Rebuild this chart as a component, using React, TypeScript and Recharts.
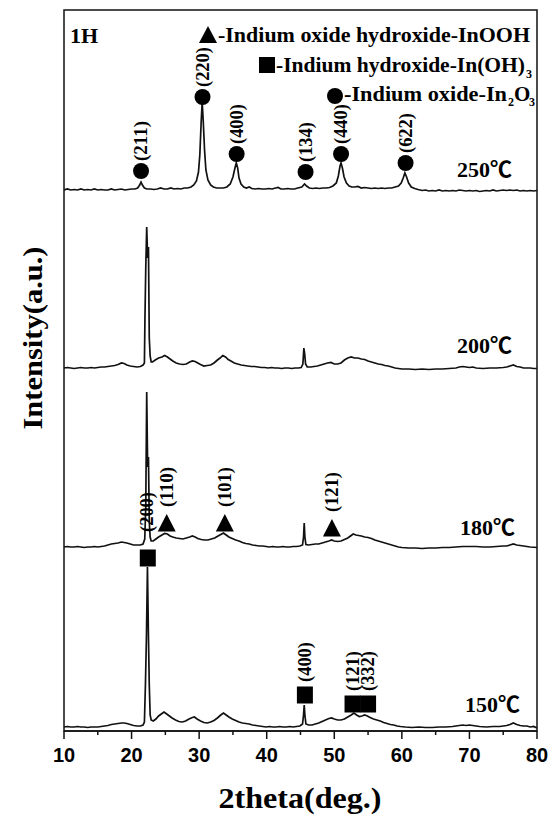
import React from "react";
import { ComposedChart, Line, Scatter, XAxis, YAxis, ReferenceArea } from "recharts";

// 2theta (deg.) vs intensity above each pattern's own baseline (a.u.)
const XRD_250: [number, number][] = [
  [10, 0], [10.5, 1], [11, 0], [11.5, 0.5], [12, 0], [12.5, 1], [13, 0], [13.5, 0.5], [14, 0], [14.5, 1],
  [15, 0], [15.5, 0.5], [16, 0], [16.5, 0], [17, 1], [17.5, 0], [18, 0.5], [18.5, 1], [19, 0], [19.5, 0.5],
  [20, 1], [20.5, 1], [20.9, 2], [21.2, 5], [21.4, 8], [21.6, 5], [21.9, 2], [22.3, 1], [22.8, 1], [23.3, 0.5],
  [23.8, 1], [24.3, 2], [24.8, 1], [25.3, 1], [25.8, 2], [26.3, 1], [26.8, 1.5], [27.3, 1], [27.8, 2], [28.3, 2],
  [28.8, 3], [29.2, 5], [29.6, 9], [29.9, 18], [30.1, 35], [30.3, 68], [30.45, 88], [30.6, 70], [30.8, 40],
  [31.0, 20], [31.3, 10], [31.7, 5], [32.1, 3], [32.6, 2], [33.1, 2], [33.6, 2], [34.1, 3], [34.6, 6], [35.0, 13],
  [35.3, 22], [35.5, 27], [35.7, 22], [35.9, 12], [36.2, 6], [36.6, 3], [37.0, 2], [37.4, 3], [37.8, 1.5],
  [38.3, 1], [38.8, 1.5], [39.3, 1], [39.8, 1], [40.3, 1.5], [40.8, 1], [41.3, 2], [41.7, 2.5], [42.1, 1],
  [42.6, 1], [43.1, 1.5], [43.6, 1], [44.1, 1], [44.6, 2], [45.2, 3], [45.6, 6], [45.9, 4], [46.3, 2], [46.8, 1.5],
  [47.3, 2], [47.8, 1.5], [48.3, 2], [48.8, 2], [49.3, 2.5], [49.8, 4], [50.3, 7], [50.6, 14], [50.85, 24],
  [51.0, 27], [51.2, 22], [51.45, 13], [51.8, 7], [52.2, 4], [52.6, 3], [53.0, 3], [53.5, 3.5], [54.0, 2],
  [54.5, 2.5], [55.0, 2], [55.5, 1.5], [56.0, 2], [56.5, 1.5], [57.0, 2], [57.5, 1.5], [58.0, 2], [58.5, 2],
  [59.0, 3], [59.5, 4], [59.9, 7], [60.2, 12], [60.45, 17], [60.7, 13], [61.0, 7], [61.4, 3], [61.9, 1.5],
  [62.4, 0.5], [63, -0.5], [63.5, 0], [64, -1], [64.5, -0.5], [65, -1], [65.5, 0], [66, -1], [66.5, -0.5],
  [67, -1], [67.5, -0.5], [68, -1], [68.5, 0], [69, -0.5], [69.5, -1], [70, -0.5], [70.5, -1], [71, -0.5],
  [71.5, -1.5], [72, -1], [72.5, -0.5], [73, -1], [73.5, 0], [74, -1], [74.5, -0.5], [75, 0], [75.5, -0.5],
  [76, 0], [76.5, -0.5], [77, 0], [77.5, -1], [78, -0.5], [78.5, -1], [79, -0.5], [79.5, -1], [80, -0.5],
];

const XRD_200: [number, number][] = [
  [10, 0], [10.5, 0.5], [11, 0], [11.5, -0.5], [12, 0], [12.5, 0.5], [13, 0], [13.5, 0], [14, 0.5], [14.5, 0],
  [15, 0.5], [15.5, 1], [16, 1], [16.5, 1.5], [17, 2], [17.5, 2.5], [18, 3.5], [18.5, 5], [18.9, 4.5], [19.3, 3],
  [19.8, 2], [20.3, 1.5], [20.8, 1], [21.3, 1.5], [21.7, 3], [21.9, 5], [21.98, 50], [22.1, 100], [22.24, 141],
  [22.38, 110], [22.5, 121], [22.62, 30], [22.75, 12], [22.9, 6], [23.1, 6], [23.5, 8], [24.0, 10], [24.5, 11],
  [24.9, 12.5], [25.3, 11], [25.7, 9], [26.1, 7], [26.6, 5], [27.1, 4], [27.6, 3.5], [28.1, 4], [28.6, 6],
  [29.0, 7], [29.4, 6.5], [29.8, 5], [30.2, 3.5], [30.7, 2], [31.2, 2.5], [31.7, 3], [32.2, 5], [32.7, 8],
  [33.1, 10], [33.5, 12.5], [33.9, 11], [34.3, 8.5], [34.7, 7], [35.2, 5], [35.7, 4], [36.2, 3], [36.7, 2.5],
  [37.2, 2], [37.7, 1.5], [38.2, 1.5], [38.7, 1], [39.2, 0.5], [39.7, 0.5], [40.2, 0], [40.7, 0.5], [41.2, 0],
  [41.7, 0], [42.2, -0.5], [42.7, 0], [43.2, 0], [43.7, -0.5], [44.2, 0], [44.7, 0], [45.1, 0.5], [45.35, 4],
  [45.5, 20], [45.62, 14], [45.75, 4], [46.0, 1], [46.5, 1], [47, 1.5], [47.5, 2], [48, 3], [48.5, 4], [49, 5],
  [49.5, 5.5], [50, 4], [50.5, 4], [51, 5], [51.5, 8], [52, 10], [52.5, 11], [53, 10], [53.5, 10], [54, 9],
  [54.5, 8.5], [55, 7], [55.5, 6], [56, 5], [56.5, 4], [57, 3.5], [57.5, 2.5], [58, 2], [58.5, 1], [59, 0],
  [59.5, -0.5], [60, -1], [61, -1], [62, -1.5], [63, -1], [64, -1.5], [65, -1], [66, -1], [67, -0.5], [68, 0],
  [68.5, 1], [69, 1.5], [69.5, 1], [70, 0.5], [70.5, 1], [71, 0], [72, -0.5], [73, 0], [74, 0], [75, 0.5],
  [75.5, 1], [76, 2], [76.5, 3], [77, 1.5], [77.5, 1], [78, 0], [79, 0], [79.5, -0.5], [80, -0.5],
];

const XRD_180: [number, number][] = [
  [10, 0], [10.5, 0.5], [11, 0], [11.5, 0], [12, 0.5], [12.5, 0], [13, -0.5], [13.5, 0], [14, 0], [14.5, 0.5],
  [15, 0], [15.5, 0.5], [16, 1], [16.5, 2], [17, 3], [17.5, 3.5], [18, 4], [18.5, 5], [18.9, 4.5], [19.3, 4],
  [19.8, 3], [20.3, 2], [20.8, 2], [21.3, 2], [21.7, 3], [21.95, 8], [22.1, 40], [22.24, 155], [22.38, 80],
  [22.5, 90], [22.62, 25], [22.75, 10], [22.9, 6], [23.2, 6], [23.6, 8], [24.0, 10], [24.5, 12], [24.9, 13.5],
  [25.3, 13], [25.7, 11], [26.1, 10], [26.6, 9], [27.1, 8.5], [27.6, 8], [28.1, 9], [28.6, 10], [29.0, 11],
  [29.4, 10], [29.8, 8.5], [30.3, 7.5], [30.8, 7], [31.3, 7], [31.8, 8], [32.3, 9], [32.8, 11], [33.2, 12.5],
  [33.6, 14], [34.0, 12], [34.4, 10], [34.9, 8.5], [35.4, 7], [35.9, 6], [36.4, 4.5], [36.9, 3.5], [37.4, 3],
  [37.9, 2], [38.4, 1.5], [38.9, 1], [39.4, 1], [39.9, 0.5], [40.4, 0], [40.9, 0.5], [41.4, 0], [41.9, 0],
  [42.4, 0.5], [42.9, 0], [43.4, 0], [43.9, 0.5], [44.4, 0.5], [44.9, 1], [45.3, 2], [45.45, 10], [45.55, 24],
  [45.65, 10], [45.8, 2.5], [46.2, 2], [46.7, 2.5], [47.2, 3], [47.7, 3], [48.2, 4], [48.7, 5], [49.2, 6],
  [49.6, 7], [50.0, 6], [50.5, 5.5], [51.0, 6], [51.5, 7.5], [52.0, 9], [52.4, 11], [52.8, 13], [53.2, 12],
  [53.6, 11.5], [54.0, 11], [54.5, 10], [55.0, 9.5], [55.5, 8.5], [56.0, 7], [56.5, 6], [57.0, 5], [57.5, 4],
  [58.0, 3], [58.5, 2], [59.0, 1], [59.5, 0], [60, -0.5], [61, -1], [62, -1], [63, -1.5], [64, -1], [65, -1],
  [66, -0.5], [67, -0.5], [68, 0], [69, 0.5], [70, 0.5], [71, 0.5], [72, 0], [73, 0], [74, 0.5], [75, 1],
  [75.5, 1], [76, 2], [76.5, 3], [77, 2], [77.5, 1.5], [78, 1], [79, 0], [80, -0.5],
];

const XRD_150: [number, number][] = [
  [10, 0], [10.5, 0.5], [11, 0], [11.5, 0], [12, 0.5], [12.5, 0], [13, 0], [13.5, -0.5], [14, 0], [14.5, 0],
  [15, 0], [15.5, 0.5], [16, 1], [16.5, 1.5], [17, 2.5], [17.5, 3], [18, 3.5], [18.5, 4], [18.9, 4], [19.3, 3.5],
  [19.8, 2.5], [20.3, 1.5], [20.8, 1], [21.3, 1], [21.7, 2], [21.9, 5], [22.05, 42], [22.2, 90], [22.35, 160],
  [22.5, 90], [22.62, 42], [22.75, 12], [22.9, 7], [23.2, 6], [23.6, 8], [24.0, 11], [24.4, 13], [24.8, 15],
  [25.2, 13], [25.6, 11], [26.0, 9], [26.5, 7], [27.0, 5.5], [27.5, 5], [28.0, 6], [28.5, 8], [29.0, 9.5],
  [29.3, 10], [29.7, 8], [30.2, 6], [30.7, 4.5], [31.2, 4], [31.7, 5], [32.2, 6.5], [32.7, 9], [33.2, 12],
  [33.6, 14], [34.0, 12], [34.4, 10], [34.9, 8], [35.4, 6.5], [35.9, 5], [36.4, 4], [36.9, 3.5], [37.4, 3],
  [37.9, 2], [38.4, 1.5], [38.9, 1], [39.4, 0.5], [39.9, 0], [40.4, 0.5], [40.9, 0], [41.4, 0], [41.9, 0.5],
  [42.4, 0], [42.9, 0], [43.4, 0.5], [43.9, 0], [44.4, 0.5], [44.9, 1], [45.3, 3], [45.45, 12], [45.55, 22],
  [45.65, 12], [45.8, 3], [46.2, 2], [46.7, 2], [47.2, 3], [47.7, 4], [48.2, 5.5], [48.7, 7], [49.2, 8.5],
  [49.6, 9], [50.0, 8], [50.5, 7], [51.0, 7], [51.5, 8], [52.0, 10], [52.5, 12], [52.9, 14], [53.3, 12],
  [53.7, 10.5], [54.1, 11], [54.5, 12], [54.9, 11], [55.3, 9.5], [55.8, 8], [56.3, 7], [56.8, 6], [57.3, 4.5],
  [57.8, 3.5], [58.3, 2.5], [58.8, 2], [59.3, 1], [59.8, 0.5], [60.5, 0], [61.5, -0.5], [62.5, 0], [63.5, -0.5],
  [64.5, -0.5], [65.5, 0], [66.5, 0], [67.5, 0.5], [68.5, 1.5], [69.0, 2], [69.5, 1.5], [70.0, 2], [70.5, 1.5],
  [71.0, 1], [71.5, 0.5], [72.5, 0], [73.5, 0.5], [74.5, 0.5], [75.5, 1.5], [76.0, 2.5], [76.5, 4], [77.0, 2.5],
  [77.5, 1.5], [78.0, 1], [78.5, 1], [79.0, 0], [79.5, 0.5], [80, -1],
];

// stacking offsets (a.u.) for each temperature
const OFFSET_250 = 541;
const OFFSET_200 = 363;
const OFFSET_180 = 184;
const OFFSET_150 = 4;

// indexed reflections: [2theta, marker height above baseline, hkl]
const IN2O3_250: [number, number, string][] = [
  [21.4, 19, "(211)"], [30.5, 93, "(220)"], [35.55, 36, "(400)"],
  [45.75, 18, "(134)"], [51.0, 36, "(440)"], [60.55, 27, "(622)"],
];
const INOOH_180: [number, number, string][] = [
  [25.2, 24, "(110)"], [33.8, 24, "(101)"], [49.65, 19, "(121)"],
];
const INOH3_180: [number, number, string][] = [[22.4, -11, ""]];
const LABEL_180: [number, number, string][] = [[22.3, 15, "(200)"]];
const INOH3_150: [number, number, string][] = [
  [45.65, 32, "(400)"], [52.7, 23, "(121)"], [55.0, 23, "(332)"],
];

const X_TICKS = [10, 15, 20, 25, 30, 35, 40, 45, 50, 55, 60, 65, 70, 75, 80];

const shift = (pts: [number, number][], off: number) => pts.map(([x, y]) => ({ x, y: y + off }));
const peaks = (pts: [number, number, string][], off: number, phase: string) =>
  pts.map(([x, y, hkl]) => ({ x, y: y + off, hkl, phase }));

const SERIF = "'Liberation Serif', 'Times New Roman', 'Noto Sans CJK SC', serif";
const SANS = "'Liberation Sans', Arial, sans-serif";
const INK = "#111";

function PeakMark(props: any) {
  const { cx, cy, payload } = props;
  if (cx == null || cy == null) return null;
  let mark: React.ReactNode = null;
  let gap = 0;
  if (payload.phase === "In2O3") {
    mark = <circle cx={cx} cy={cy} r={8} fill="#000" />;
    gap = 10;
  } else if (payload.phase === "InOOH") {
    mark = <polygon points={`${cx},${cy - 9} ${cx + 9},${cy + 8.5} ${cx - 9},${cy + 8.5}`} fill="#000" />;
    gap = 16;
  } else if (payload.phase === "InOH3") {
    mark = <rect x={cx - 8} y={cy - 8.5} width={16} height={17} fill="#000" />;
    gap = 13;
  }
  const ly = cy - gap;
  return (
    <g>
      {mark}
      {payload.hkl && (
        <text
          x={cx}
          y={ly}
          dy="0.35em"
          transform={`rotate(-90 ${cx} ${ly})`}
          fontFamily={SERIF}
          fontWeight="bold"
          fontSize={18}
          textLength={40}
          lengthAdjust="spacingAndGlyphs"
          fill="#000"
        >
          {payload.hkl}
        </text>
      )}
    </g>
  );
}

function XTick(props: any) {
  const { x, y, payload } = props;
  const major = payload.value % 10 === 0;
  return (
    <g>
      <line x1={x} x2={x} y1={y} y2={y + (major ? 8 : 4)} stroke={INK} strokeWidth={1.5} />
      {major && (
        <text x={x} y={y + 31} textAnchor="middle" fontFamily={SANS} fontWeight="bold" fontSize={20} fill="#000">
          {payload.value}
        </text>
      )}
    </g>
  );
}

const traceStyle = { stroke: INK, strokeWidth: 1.7, dot: false, isAnimationActive: false, type: "linear" as const };
const markShape = (p: any) => <PeakMark {...p} />;

export default function App() {
  return (
    <div style={{ position: "absolute", left: 0, top: 0, width: 557, height: 816, background: "#fff" }}>
      <ComposedChart width={557} height={816} margin={{ top: 10, right: 20, bottom: 45, left: 64 }}>
        <XAxis
          dataKey="x"
          type="number"
          domain={[10, 80]}
          ticks={X_TICKS}
          interval={0}
          height={40}
          tickSize={0}
          tickMargin={0}
          tickLine={false}
          tick={<XTick />}
          axisLine={{ stroke: INK, strokeWidth: 1.5 }}
          allowDataOverflow
        />
        <YAxis type="number" domain={[0, 721]} width={0} tick={false} tickLine={false} axisLine={false} allowDataOverflow />
        <ReferenceArea x1={10} x2={80} y1={0} y2={721} fill="none" stroke={INK} strokeWidth={1.5} ifOverflow="visible" />
        <Line data={shift(XRD_250, OFFSET_250)} dataKey="y" {...traceStyle} />
        <Line data={shift(XRD_200, OFFSET_200)} dataKey="y" {...traceStyle} />
        <Line data={shift(XRD_180, OFFSET_180)} dataKey="y" {...traceStyle} />
        <Line data={shift(XRD_150, OFFSET_150)} dataKey="y" {...traceStyle} />
        <Scatter data={peaks(IN2O3_250, OFFSET_250, "In2O3")} dataKey="y" shape={markShape} isAnimationActive={false} />
        <Scatter data={peaks(INOOH_180, OFFSET_180, "InOOH")} dataKey="y" shape={markShape} isAnimationActive={false} />
        <Scatter data={peaks(INOH3_180, OFFSET_180, "InOH3")} dataKey="y" shape={markShape} isAnimationActive={false} />
        <Scatter data={peaks(LABEL_180, OFFSET_180, "none")} dataKey="y" shape={markShape} isAnimationActive={false} />
        <Scatter data={peaks(INOH3_150, OFFSET_150, "InOH3")} dataKey="y" shape={markShape} isAnimationActive={false} />
      </ComposedChart>

      <svg width={557} height={816} style={{ position: "absolute", left: 0, top: 0, pointerEvents: "none" }}>
        <g fontFamily={SERIF} fontWeight="bold" fill="#000">
          <text x={70} y={43} fontSize={22}>1H</text>

          <polygon points="208,26 217,43 199,43" fill="#000" />
          <text x={218} y={42} fontSize={21} textLength={312} lengthAdjust="spacingAndGlyphs">-Indium oxide hydroxide-InOOH</text>

          <rect x={259} y={57} width={16} height={16} fill="#000" />
          <text x={276} y={72} fontSize={21} textLength={249} lengthAdjust="spacingAndGlyphs">-Indium hydroxide-In(OH)</text>
          <text x={526} y={78} fontSize={12}>3</text>

          <circle cx={335} cy={96} r={8} fill="#000" />
          <text x={344} y={101} fontSize={21} textLength={163} lengthAdjust="spacingAndGlyphs">-Indium oxide-In</text>
          <text x={508} y={106} fontSize={12}>2</text>
          <text x={514} y={101} fontSize={21}>O</text>
          <text x={529} y={106} fontSize={12}>3</text>

          <text x={457} y={177} fontSize={22}>250℃</text>
          <text x={457} y={353} fontSize={22}>200℃</text>
          <text x={460} y={535} fontSize={22}>180℃</text>
          <text x={465} y={712} fontSize={22}>150℃</text>

          <text x={42} y={338} fontSize={27} textAnchor="middle" transform="rotate(-90 42 338)" textLength={183} lengthAdjust="spacingAndGlyphs">
            Intensity(a.u.)
          </text>
          <text x={300} y={808} fontSize={30} textAnchor="middle" textLength={163} lengthAdjust="spacingAndGlyphs">
            2theta(deg.)
          </text>
        </g>
      </svg>
    </div>
  );
}
